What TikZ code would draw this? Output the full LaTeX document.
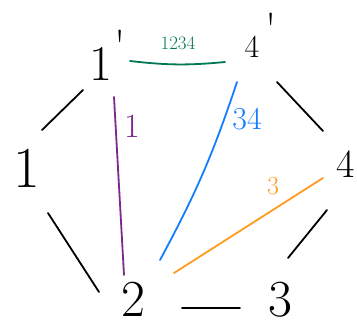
\documentclass[tikz,border=0pt]{standalone}
\usepackage{fontspec}
\definecolor{hgreen}{RGB}{0,120,85}
\definecolor{hpurple}{RGB}{125,40,140}
\definecolor{hblue}{RGB}{20,125,255}
\definecolor{horange}{RGB}{255,155,30}
\newcommand\myfs[1]{\fontsize{#1}{#1}\selectfont}
\newcommand\myprime[2]{\rlap{\smash{\hspace*{#1}\raisebox{#2}{\myfs{45}\textquotesingle}}}}
\begin{document}
\begin{tikzpicture}[x=1pt,y=-1pt,
  vtx/.style={anchor=base, inner sep=0pt, outer sep=0pt},
  lbl/.style={inner sep=0pt, outer sep=0pt},
  edge/.style={line width=1.8pt, line cap=round, line join=round},
]
\useasboundingbox (0,0) rectangle (357,325);
% vertices
\node[vtx] (n1p) at (101,80) {\myfs{50}1\myprime{2pt}{19pt}};
\node[vtx] (n4p) at (252,57) {\myfs{32}4\myprime{6pt}{13pt}};
\node[vtx] (n1)  at (27,187) {\myfs{58}1};
\node[vtx] (n4)  at (346,177) {\myfs{40}4};
\node[vtx] (n2)  at (133,316) {\myfs{52}2};
\node[vtx] (n3)  at (280,316) {\myfs{52}3};
% labels
\node[lbl, text=hgreen]  (l1234) at (178,43) {\myfs{19}1234};
\node[lbl, text=hpurple] (lp)    at (132,126) {\myfs{34}1};
\node[lbl, text=hblue]   (lb)    at (247,119) {\myfs{32}34};
\node[lbl, text=horange] (lo)    at (273,186) {\myfs{26}3};
% black edges
\draw[edge] ([shift={(15,-57)}]n1.base) -- ([shift={(-18,10)}]n1p.base);
\draw[edge] ([shift={(21,26)}]n1.base) -- ([shift={(-34,-24)}]n2.base);
\draw[edge] ([shift={(49,-8)}]n2.base) -- ([shift={(-40,-8)}]n3.base);
\draw[edge] ([shift={(-19,33)}]n4.base) -- ([shift={(8,-58)}]n3.base);
\draw[edge] ([shift={(25,25)}]n4p.base) -- ([shift={(-23,-46)}]n4.base);
% coloured edges
\draw[edge, hgreen] ([shift={(29,-19)}]n1p.base) to[bend right=6] ([shift={(-27,5)}]n4p.base);
\draw[edge, hpurple] ([shift={(13,17)}]n1p.base) -- ([shift={(-9,-41)}]n2.base);
\draw[edge, hblue] ([shift={(-15,25)}]n4p.base) to[bend left=5] ([shift={(27,-56)}]n2.base);
\draw[edge, horange] ([shift={(-23,1)}]n4.base) -- ([shift={(41,-43)}]n2.base);
\end{tikzpicture}
\end{document}
